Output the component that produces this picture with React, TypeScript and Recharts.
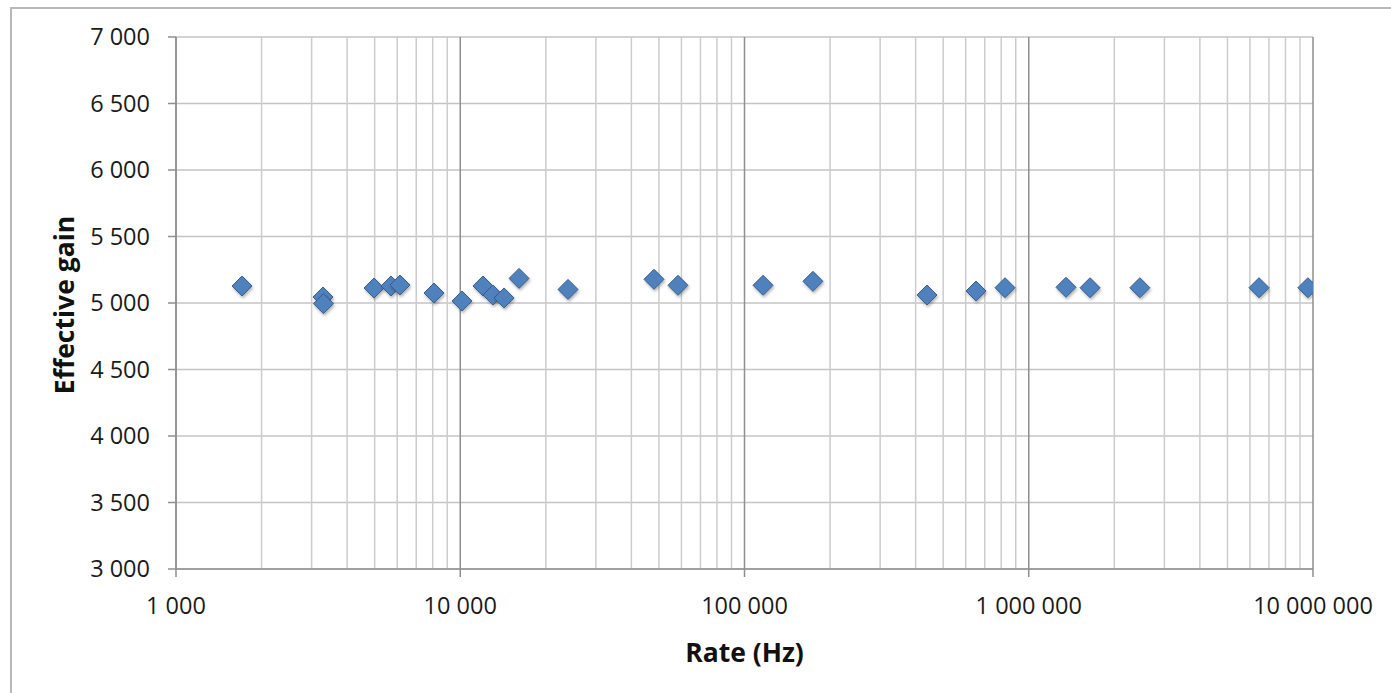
import React from 'react';
import { ScatterChart, Scatter, XAxis, YAxis, CartesianGrid, ReferenceLine, Label } from 'recharts';

// rate (Hz) vs effective gain
const rates = [
  1707, 3289, 3303, 4974, 5706, 6137, 8083, 10140, 12020, 13030, 14260, 16100, 23940,
  48040, 58340, 116200, 174100, 438400, 652400, 825000, 1352000, 1643000, 2460000,
  6457000, 9594000,
];
const gains = [
  5128, 5045, 4995, 5113, 5128, 5135, 5075, 5015, 5128, 5060, 5038, 5185, 5102,
  5178, 5133, 5133, 5163, 5060, 5090, 5115, 5118, 5115, 5115, 5115, 5115,
];

const xTicks = [1000, 10000, 100000, 1000000, 10000000];
const yTicks = [3000, 3500, 4000, 4500, 5000, 5500, 6000, 6500, 7000];
const minorTicks = [1000, 10000, 100000, 1000000].flatMap((d) =>
  [2, 3, 4, 5, 6, 7, 8, 9].map((m) => m * d)
);

const points = rates.map((rate, i) => ({ rate, gain: gains[i] }));

const fmt = (v: number) => String(v).replace(/\B(?=(\d{3})+(?!\d))/g, ' ');

const FONT = '"Open Sans", sans-serif';

const Diamond = (props: any) => {
  const { cx, cy } = props;
  const r = 10;
  return (
    <polygon
      points={`${cx},${cy - r} ${cx + r},${cy} ${cx},${cy + r} ${cx - r},${cy}`}
      fill="#4F81BD"
      stroke="#385D8A"
      strokeWidth={1}
      filter="url(#shadow)"
    />
  );
};

const App: React.FC = () => {
  return (
    <div style={{ position: 'absolute', left: 0, top: 0, width: 1391, height: 693, background: '#fff' }}>
      <div
        style={{
          position: 'absolute',
          left: 10,
          top: 7,
          width: 1400,
          height: 700,
          borderLeft: '2px solid #b8b8b8',
          borderTop: '2px solid #b8b8b8',
        }}
      />
      <div style={{ position: 'absolute', left: 0, top: 0 }}>
        <ScatterChart
          width={1391}
          height={693}
          margin={{ top: 37, right: 78, left: 56, bottom: 24 }}
          style={{ fontFamily: FONT }}
        >
          <defs>
            <filter id="shadow" x="-50%" y="-50%" width="200%" height="200%">
              <feDropShadow dx="1" dy="2" stdDeviation="1.5" floodColor="#000" floodOpacity="0.3" />
            </filter>
          </defs>
          {minorTicks.map((v) => (
            <ReferenceLine key={v} x={v} stroke="#cccccc" strokeWidth={1.5} />
          ))}
          <CartesianGrid horizontal vertical={false} stroke="#c4c4c4" strokeWidth={1.5} />
          <CartesianGrid horizontal={false} vertical stroke="#8f8f8f" strokeWidth={1.5} />
          <XAxis
            dataKey="rate"
            type="number"
            scale="log"
            domain={[1000, 10000000]}
            ticks={xTicks}
            tickFormatter={fmt}
            height={100}
            tickSize={8}
            tickMargin={20}
            interval={0}
            stroke="#8f8f8f"
            strokeWidth={1.5}
            tick={{ fill: '#1a1a1a', fontSize: 23.5, fontFamily: FONT }}
            allowDataOverflow
          >
            <Label
              content={({ viewBox }: any) => (
                <text
                  x={viewBox.x + viewBox.width / 2}
                  y={viewBox.y + 83}
                  textAnchor="middle"
                  dominantBaseline="central"
                  fontFamily={FONT}
                  fontSize={26.5}
                  fontWeight="bold"
                  fill="#111"
                >
                  Rate (Hz)
                </text>
              )}
            />
          </XAxis>
          <YAxis
            dataKey="gain"
            type="number"
            domain={[3000, 7000]}
            ticks={yTicks}
            tickFormatter={fmt}
            width={120}
            tickSize={8}
            tickMargin={18}
            interval={0}
            stroke="#8f8f8f"
            strokeWidth={1.5}
            tick={{ fill: '#1a1a1a', fontSize: 23.5, fontFamily: FONT }}
          >
            <Label
              content={({ viewBox }: any) => {
                const x = viewBox.x + 8;
                const y = viewBox.y + viewBox.height / 2 + 2;
                return (
                  <text
                    x={x}
                    y={y}
                    transform={`rotate(-90, ${x}, ${y})`}
                    textAnchor="middle"
                    dominantBaseline="central"
                    fontFamily={FONT}
                    fontSize={26.5}
                    fontWeight="bold"
                    fill="#111"
                  >
                    Effective gain
                  </text>
                );
              }}
            />
          </YAxis>
          <Scatter data={points} shape={<Diamond />} isAnimationActive={false} />
        </ScatterChart>
      </div>
    </div>
  );
};

export default App;
